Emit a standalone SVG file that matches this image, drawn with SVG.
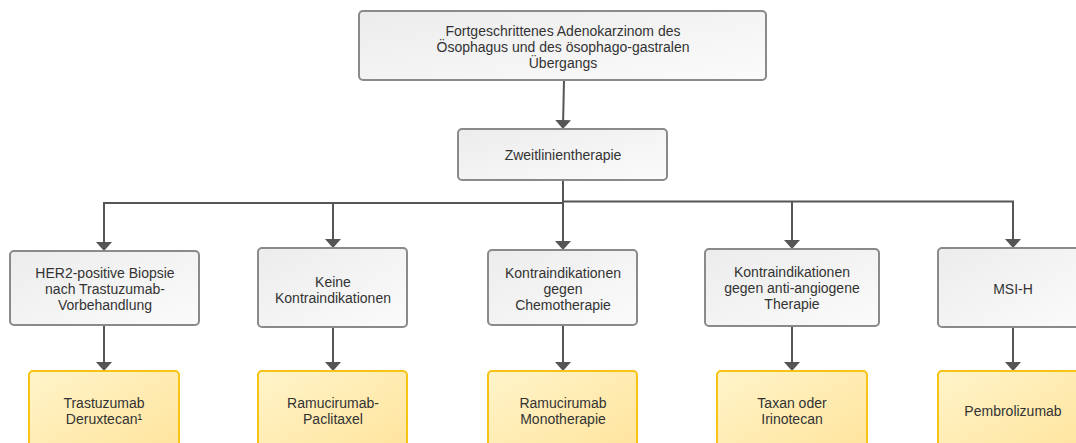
<svg xmlns="http://www.w3.org/2000/svg" width="1076" height="443" viewBox="0 0 1076 443">
<style>
.g{stroke:#8a8a8a;stroke-width:2;}
.y{stroke:#f7c315;stroke-width:2;}
.t{font-family:"Liberation Sans",Arial,sans-serif;font-size:14px;fill:#333;text-anchor:middle;}
.c{fill:none;stroke:#555;stroke-width:2;}
.a{marker-end:url(#ah);}
</style>
<defs>
<linearGradient id="gg" x1="0" y1="0" x2="1" y2="1">
<stop offset="0" stop-color="#ececec"/>
<stop offset="1" stop-color="#fbfbfb"/>
</linearGradient>
<linearGradient id="yg" x1="0" y1="0" x2="1" y2="1">
<stop offset="0" stop-color="#fff4c9"/>
<stop offset="1" stop-color="#ffe39b"/>
</linearGradient>
<marker id="ah" markerWidth="9" markerHeight="16" refX="6" refY="8" orient="auto" markerUnits="userSpaceOnUse" viewBox="0 0 9 16">
<path d="M0,0 L9,8 L0,16 Z" fill="#555"/>
</marker>
</defs>
<g id="connectors">
<path class="c a" d="M564,80 L563,126"/>
<path class="c" d="M563,180 L563,203"/>
<path class="c a" d="M563,201 L563,247"/>
<path class="c a" d="M563,203 L104,203 L104,248"/>
<path class="c a" d="M333,203 L333,245"/>
<path class="c a" d="M563,201.5 L1013,201.5 L1013,245"/>
<path class="c a" d="M792,201.5 L792,246"/>
<path class="c a" d="M104,325 L104,368"/>
<path class="c a" d="M333,327 L333,368"/>
<path class="c a" d="M563,325 L563,368"/>
<path class="c a" d="M792,326 L792,368"/>
<path class="c a" d="M1013,327 L1013,368"/>
</g>
<g id="n-start">
<rect class="g" x="359" y="11" width="407" height="69" rx="4" fill="url(#gg)"/>
<text class="t" x="563" y="36">Fortgeschrittenes Adenokarzinom des</text>
<text class="t" x="563" y="52">Ösophagus und des ösophago-gastralen</text>
<text class="t" x="563" y="68">Übergangs</text>
</g>
<g id="n-zweit">
<rect class="g" x="458" y="129" width="209" height="51" rx="4" fill="url(#gg)"/>
<text class="t" x="563" y="160">Zweitlinientherapie</text>
</g>
<g id="n-her2">
<rect class="g" x="10" y="251" width="189" height="74" rx="4" fill="url(#gg)"/>
<text class="t" x="105" y="278">HER2-positive Biopsie</text>
<text class="t" x="105" y="294">nach Trastuzumab-</text>
<text class="t" x="105" y="310">Vorbehandlung</text>
</g>
<g id="n-keine">
<rect class="g" x="258" y="248" width="149" height="79" rx="4" fill="url(#gg)"/>
<text class="t" x="333" y="287">Keine</text>
<text class="t" x="333" y="303">Kontraindikationen</text>
</g>
<g id="n-chemo">
<rect class="g" x="488" y="250" width="149" height="75" rx="4" fill="url(#gg)"/>
<text class="t" x="563" y="278">Kontraindikationen</text>
<text class="t" x="563" y="294">gegen</text>
<text class="t" x="563" y="310">Chemotherapie</text>
</g>
<g id="n-angio">
<rect class="g" x="705" y="249" width="174" height="77" rx="4" fill="url(#gg)"/>
<text class="t" x="792" y="277">Kontraindikationen</text>
<text class="t" x="792" y="293">gegen anti-angiogene</text>
<text class="t" x="792" y="309">Therapie</text>
</g>
<g id="n-msi">
<rect class="g" x="938" y="248" width="150" height="79" rx="4" fill="url(#gg)"/>
<text class="t" x="1013" y="294">MSI-H</text>
</g>
<g id="n-tdxd">
<rect class="y" x="29" y="371" width="150" height="85" rx="4" fill="url(#yg)"/>
<text class="t" x="104" y="408">Trastuzumab</text>
<text class="t" x="104" y="424">Deruxtecan¹</text>
</g>
<g id="n-rampac">
<rect class="y" x="258" y="371" width="149" height="85" rx="4" fill="url(#yg)"/>
<text class="t" x="333" y="408">Ramucirumab-</text>
<text class="t" x="333" y="424">Paclitaxel</text>
</g>
<g id="n-rammono">
<rect class="y" x="488" y="371" width="149" height="85" rx="4" fill="url(#yg)"/>
<text class="t" x="563" y="408">Ramucirumab</text>
<text class="t" x="563" y="424">Monotherapie</text>
</g>
<g id="n-taxan">
<rect class="y" x="717" y="371" width="150" height="85" rx="4" fill="url(#yg)"/>
<text class="t" x="792" y="408">Taxan oder</text>
<text class="t" x="792" y="424">Irinotecan</text>
</g>
<g id="n-pembro">
<rect class="y" x="938" y="371" width="150" height="85" rx="4" fill="url(#yg)"/>
<text class="t" x="1013" y="416">Pembrolizumab</text>
</g>
</svg>
